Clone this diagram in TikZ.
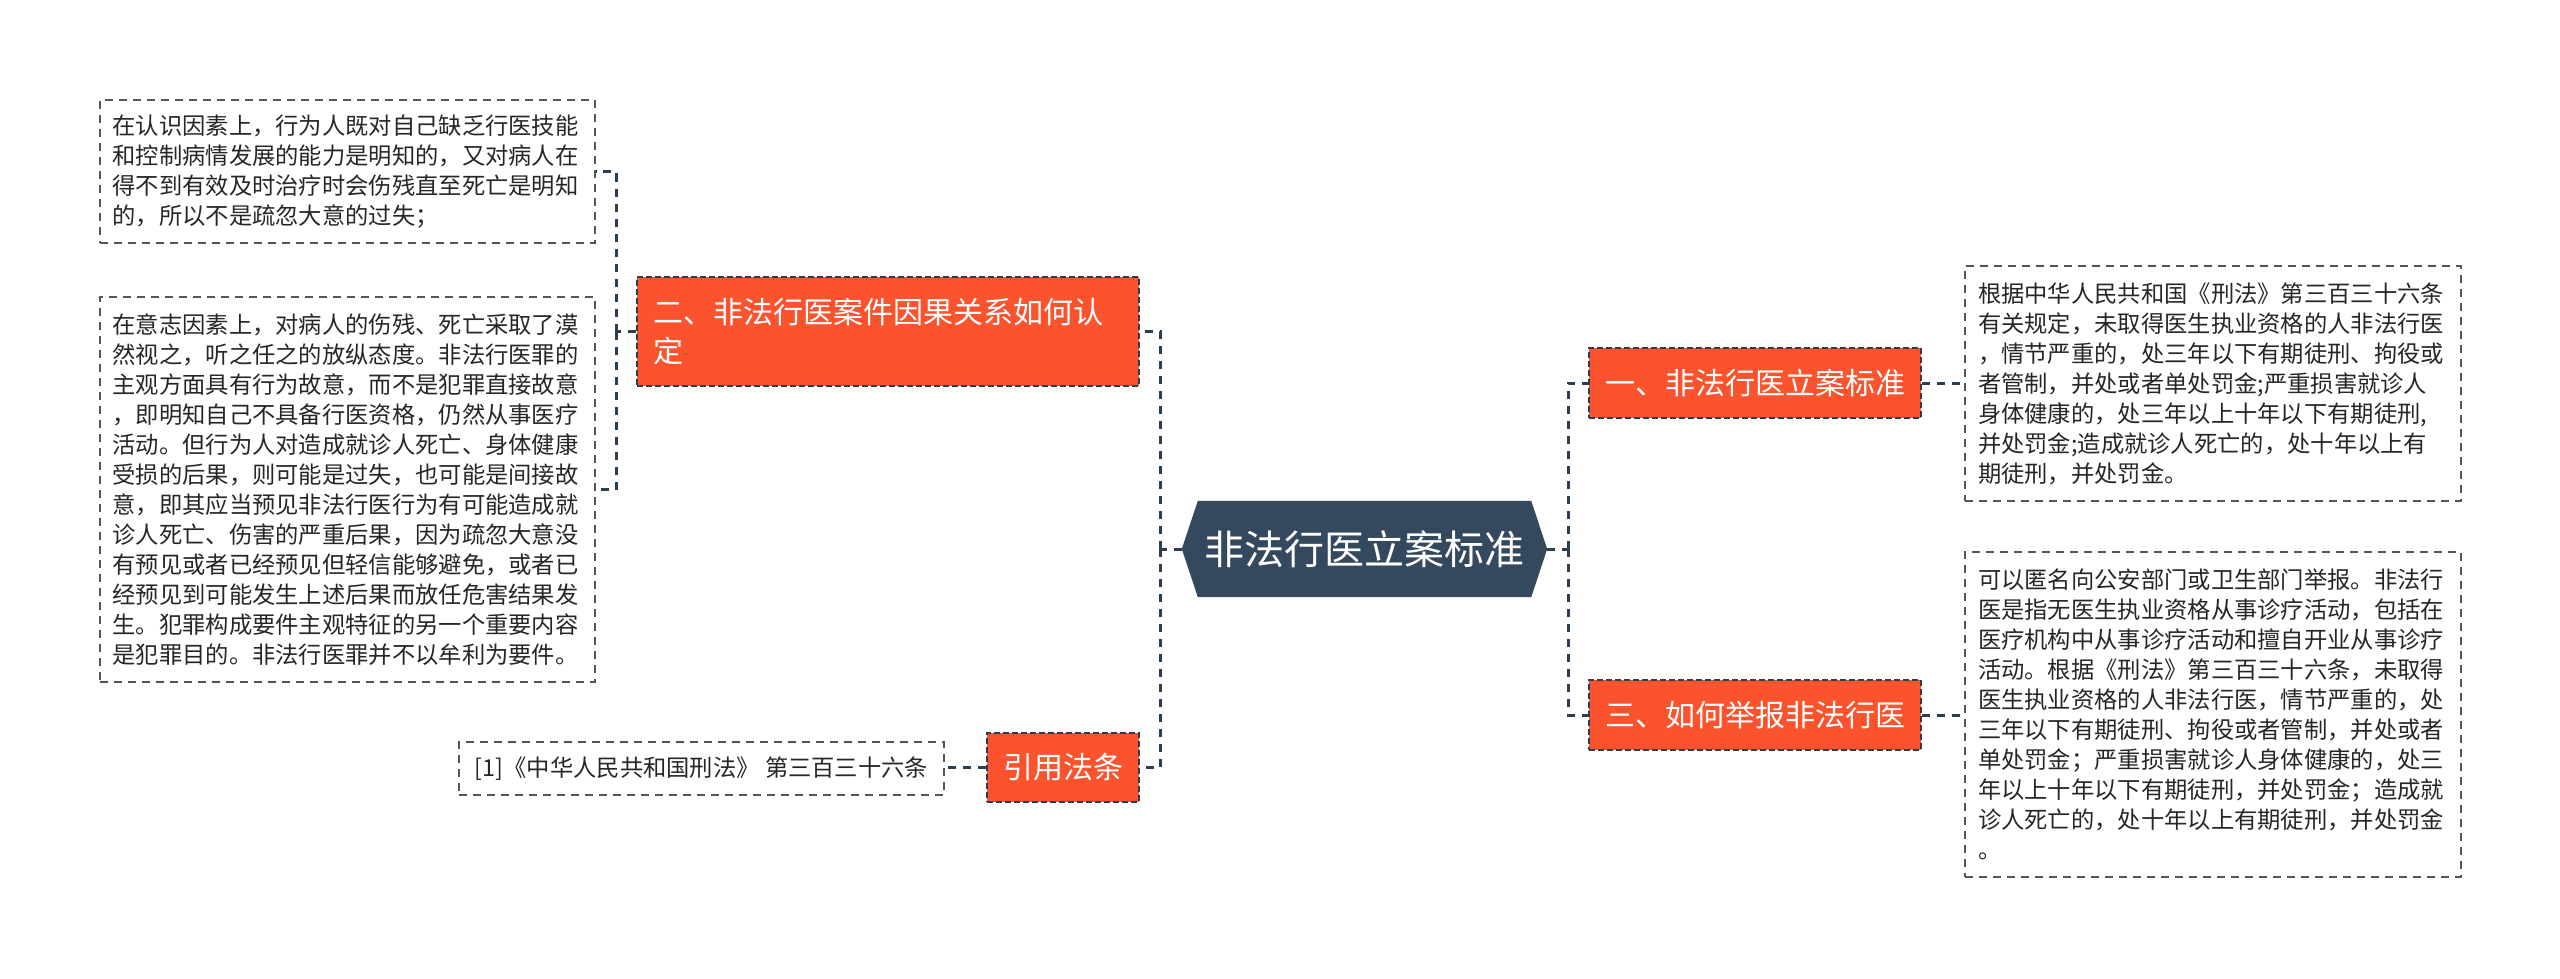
\documentclass[tikz,border=0pt]{standalone}
\usepackage{fontspec}
\setmainfont{Noto Sans CJK SC}
\usetikzlibrary{backgrounds,calc}
\definecolor{orng}{RGB}{250,83,45}
\definecolor{hexfill}{RGB}{52,73,94}
\definecolor{conn}{RGB}{44,62,80}
\definecolor{boxline}{RGB}{85,85,85}
\tikzset{
  textbox/.style={draw=boxline, line width=1.8pt, dash pattern=on 8pt off 6pt, fill=white,
    inner ysep=0pt, font=\fontsize{23.3}{30}\selectfont, text=black!85},
  topicbox/.style={draw=conn, line width=1.5pt, dash pattern=on 6pt off 3pt, fill=orng,
    text=white, inner xsep=16pt, inner ysep=0pt, font=\fontsize{30}{39}\selectfont},
  connline/.style={draw=conn, line width=3pt, dash pattern=on 8pt off 7pt},
}
\begin{document}
\begin{tikzpicture}[x=1pt,y=-1pt]
\useasboundingbox (0,0) rectangle (2560,979);

% central node
\node[minimum width=365pt, minimum height=96pt, inner sep=0pt, text=white,
  font=\fontsize{40}{40}\selectfont] (c) at (1364.5,549) {非法行医立案标准};
\begin{scope}[on background layer]
\fill[hexfill] (c.west) -- ([xshift=16pt]c.north west) -- ([xshift=-16pt]c.north east)
  -- (c.east) -- ([xshift=-16pt]c.south east) -- ([xshift=16pt]c.south west) -- cycle;
\end{scope}

% left topics
\node[topicbox, text width=470pt, align=left, minimum height=109pt] (n2) at (888,331.5)
  {二、非法行医案件因果关系如何认\\定};
\node[topicbox, minimum width=152pt, minimum height=69pt] (nref) at (1063,767.5) {引用法条};

% right topics
\node[topicbox, minimum width=332pt, minimum height=70pt] (n1) at (1755,383) {一、非法行医立案标准};
\node[topicbox, minimum width=332pt, minimum height=70pt] (n3) at (1755,715) {三、如何举报非法行医};

% left text boxes
\node[textbox, text width=470pt, align=left, inner xsep=12.5pt, minimum height=143pt] (b1) at (347.5,171.5)
{在认识因素上，行为人既对自己缺乏行医技能\\
和控制病情发展的能力是明知的，又对病人在\\
得不到有效及时治疗时会伤残直至死亡是明知\\
的，所以不是疏忽大意的过失；};

\node[textbox, text width=470pt, align=left, inner xsep=12.5pt, minimum height=385pt] (b2) at (347.5,489.5)
{在意志因素上，对病人的伤残、死亡采取了漠\\
然视之，听之任之的放纵态度。非法行医罪的\\
主观方面具有行为故意，而不是犯罪直接故意\\
，即明知自己不具备行医资格，仍然从事医疗\\
活动。但行为人对造成就诊人死亡、身体健康\\
受损的后果，则可能是过失，也可能是间接故\\
意，即其应当预见非法行医行为有可能造成就\\
诊人死亡、伤害的严重后果，因为疏忽大意没\\
有预见或者已经预见但轻信能够避免，或者已\\
经预见到可能发生上述后果而放任危害结果发\\
生。犯罪构成要件主观特征的另一个重要内容\\
是犯罪目的。非法行医罪并不以牟利为要件。};

\node[textbox, minimum width=485pt, minimum height=53pt] (bref) at (701.5,768.5)
{[1]《中华人民共和国刑法》 第三百三十六条};

% right text boxes
\node[textbox, text width=470pt, align=left, inner xsep=13pt, minimum height=235pt] (r1) at (2213,383.5)
{根据中华人民共和国《刑法》第三百三十六条\\
有关规定，未取得医生执业资格的人非法行医\\
，情节严重的，处三年以下有期徒刑、拘役或\\
者管制，并处或者单处罚金;严重损害就诊人\\
身体健康的，处三年以上十年以下有期徒刑,\\
并处罚金;造成就诊人死亡的，处十年以上有\\
期徒刑，并处罚金。};

\node[textbox, text width=470pt, align=left, inner xsep=13pt, minimum height=325pt] (r2) at (2213,714.5)
{可以匿名向公安部门或卫生部门举报。非法行\\
医是指无医生执业资格从事诊疗活动，包括在\\
医疗机构中从事诊疗活动和擅自开业从事诊疗\\
活动。根据《刑法》第三百三十六条，未取得\\
医生执业资格的人非法行医，情节严重的，处\\
三年以下有期徒刑、拘役或者管制，并处或者\\
单处罚金；严重损害就诊人身体健康的，处三\\
年以上十年以下有期徒刑，并处罚金；造成就\\
诊人死亡的，处十年以上有期徒刑，并处罚金\\
。};

% junction coordinates
\coordinate (jl) at (1160,549);
\coordinate (jr) at (1568,549);
\coordinate (jl2) at (616,331.5);

% connectors
\draw[connline] (c.west) -- (jl);
\draw[connline] (jl) |- (n2.east);
\draw[connline] (jl) |- (nref.east);
\draw[connline] (c.east) -- (jr);
\draw[connline] (jr) |- (n1.west);
\draw[connline] (jr) |- (n3.west);
\draw[connline] (n1.east) -- (n1.east -| r1.west);
\draw[connline] (n3.east) -- (n3.east -| r2.west);
\draw[connline] (nref.west) -- (nref.west -| bref.east);
\draw[connline] (n2.west) -- (jl2);
\draw[connline] (jl2) |- (b1.east);
\draw[connline] (jl2) |- (b2.east);
\end{tikzpicture}
\end{document}
